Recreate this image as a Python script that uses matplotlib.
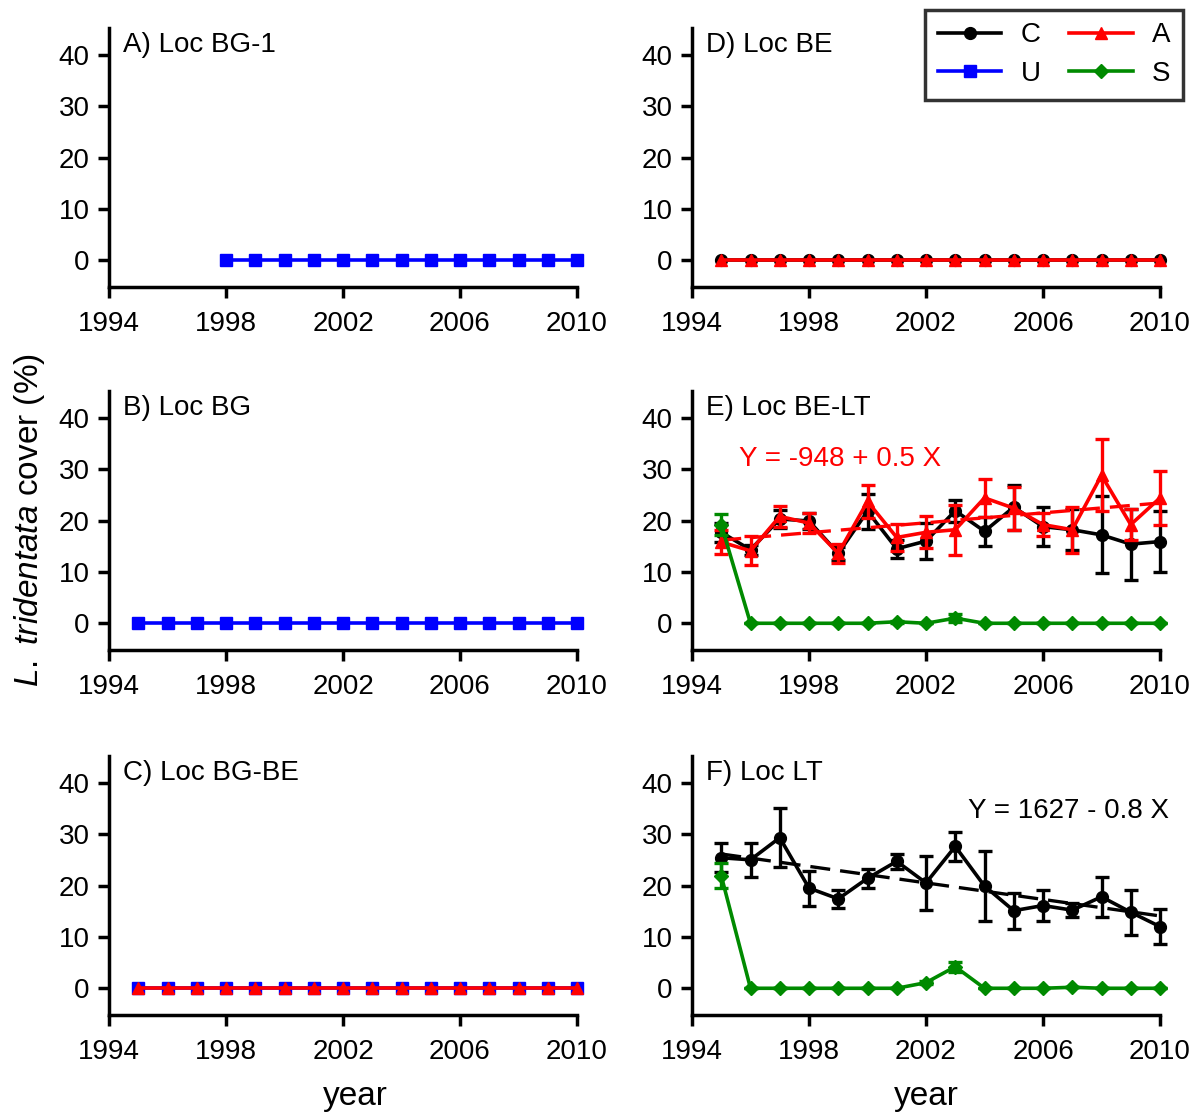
import numpy as np
import matplotlib
matplotlib.use("Agg")
import matplotlib.pyplot as plt
from matplotlib.lines import Line2D

plt.rcParams['font.family'] = ['Liberation Sans', 'DejaVu Sans']
plt.rcParams['mathtext.fontset'] = 'custom'
plt.rcParams['mathtext.it'] = 'Liberation Sans:italic'
plt.rcParams['mathtext.rm'] = 'Liberation Sans'

years = np.arange(1995, 2011)
years_a = np.arange(1998, 2011)

# Panel E (Loc BE-LT)
E_C = [17.7, 14.3, 20.3, 19.9, 13.6, 21.8, 14.5, 16.0, 21.9, 17.9, 22.6, 18.8, 18.2, 17.2, 15.4, 15.9]
E_C_err = [1.9, 1.0, 1.8, 1.6, 1.3, 3.4, 1.7, 3.5, 2.1, 2.8, 4.4, 3.8, 4.0, 7.5, 6.9, 6.0]
E_A = [15.8, 14.1, 20.8, 19.5, 13.6, 23.7, 16.7, 17.7, 18.2, 24.4, 22.4, 19.2, 18.2, 28.8, 19.2, 24.4]
E_A_err = [2.3, 2.8, 2.1, 1.9, 1.9, 3.2, 2.6, 3.1, 4.9, 3.7, 4.2, 2.2, 4.5, 7.0, 3.0, 5.3]
E_S = [19.2, 0, 0, 0, 0, 0, 0.3, 0, 1.0, 0, 0, 0, 0, 0, 0, 0]
E_S_err = [2.0, 0, 0, 0, 0, 0, 0.2, 0, 0.8, 0, 0, 0, 0, 0, 0, 0]

# Panel F (Loc LT)
F_C = [25.4, 25.0, 29.3, 19.5, 17.4, 21.4, 24.7, 20.5, 27.6, 19.9, 15.1, 16.1, 15.2, 17.8, 14.8, 12.0]
F_C_err = [2.8, 3.3, 5.7, 3.4, 1.7, 1.8, 1.5, 5.3, 2.9, 6.8, 3.5, 3.0, 1.4, 3.9, 4.4, 3.4]
F_S = [21.9, 0, 0, 0, 0, 0, 0, 1.1, 4.2, 0, 0, 0, 0.2, 0, 0, 0]
F_S_err = [2.4, 0, 0, 0, 0, 0, 0, 0.3, 1.0, 0, 0, 0, 0, 0, 0, 0]

zeros = [0.0] * len(years)
zeros_a = [0.0] * len(years_a)

panel_titles = ["A) Loc BG-1", "B) Loc BG", "C) Loc BG-BE", "D) Loc BE", "E) Loc BE-LT", "F) Loc LT"]
eq_E = "Y = -948 + 0.5 X"
eq_F = "Y = 1627 - 0.8 X"

styles = {
    'C': dict(color='black', marker='o', ms=8.5),
    'U': dict(color='blue', marker='s', ms=8.5),
    'A': dict(color='red', marker='^', ms=9),
    'S': dict(color='#008a00', marker='D', ms=7),
}

W, H = 1193, 1114
fig = plt.figure(figsize=(W / 100, H / 100), dpi=100)

lefts = [109 / W, 692 / W]
width = 468 / W
bottoms = [1 - 287 / H, 1 - 650 / H, 1 - 1015 / H]
height = 259 / H

axes = {}
labels = ['A', 'B', 'C', 'D', 'E', 'F']
for i, lab in enumerate(labels):
    col = i // 3
    row = i % 3
    ax = fig.add_axes([lefts[col], bottoms[row], width, height])
    axes[lab] = ax
    ax.set_xlim(1994, 2010)
    ax.set_ylim(-5.2, 45.2)
    ax.set_xticks([1994, 1998, 2002, 2006, 2010])
    ax.set_yticks([0, 10, 20, 30, 40])
    for s in ['top', 'right']:
        ax.spines[s].set_visible(False)
    for s in ['left', 'bottom']:
        ax.spines[s].set_linewidth(2.5)
    ax.tick_params(direction='out', length=8, width=2.5, labelsize=20, pad=6)
    ax.tick_params(axis='x', pad=9)
    ax.text(0.03, 0.985, panel_titles[i], transform=ax.transAxes, ha='left', va='top', fontsize=20)


def plot_series(ax, x, y, key, err=None, z=2):
    st = styles[key]
    if err is None:
        ax.plot(x, y, color=st['color'], marker=st['marker'], ms=st['ms'], lw=2.6, zorder=z, clip_on=False)
    else:
        ax.errorbar(x, y, yerr=err, color=st['color'], marker=st['marker'], ms=st['ms'], lw=2.6,
                    elinewidth=2.4, capsize=5, capthick=2.4, zorder=z, clip_on=False)


def plot_fit(ax, x, y, color, z):
    coef = np.polyfit(x, y, 1)
    ax.plot(x, np.polyval(coef, x), color=color, ls=(0, (6, 3)), lw=2.4, zorder=z)


# A
plot_series(axes['A'], years_a, zeros_a, 'U')
# B
plot_series(axes['B'], years, zeros, 'U')
# C
plot_series(axes['C'], years, zeros, 'U', z=2)
plot_series(axes['C'], years, zeros, 'A', z=3)
# D
plot_series(axes['D'], years, zeros, 'C', z=2)
plot_series(axes['D'], years, zeros, 'A', z=3)
# E
plot_series(axes['E'], years, E_C, 'C', E_C_err, z=2)
plot_series(axes['E'], years, E_A, 'A', E_A_err, z=3)
plot_fit(axes['E'], years, E_A, 'red', 3.5)
plot_series(axes['E'], years, E_S, 'S', E_S_err, z=4)
axes['E'].text(1995.6, 32, eq_E, color='red', fontsize=20, ha='left', va='center')
# F
plot_series(axes['F'], years, F_C, 'C', F_C_err, z=2)
plot_fit(axes['F'], years, F_C, 'black', 2.5)
plot_series(axes['F'], years, F_S, 'S', F_S_err, z=4)
axes['F'].text(2010.3, 34.4, eq_F, color='black', fontsize=20, ha='right', va='center')

# Legend
handles = [Line2D([], [], lw=2.6, **styles[k]) for k in ['C', 'U', 'A', 'S']]
leg = fig.legend(handles, ['C', 'U', 'A', 'S'], ncol=2, loc='upper right',
                 bbox_to_anchor=(1183 / W, 1 - 10 / H), fontsize=20, frameon=True,
                 fancybox=False, edgecolor='black', handlelength=2.3, columnspacing=1.0,
                 borderpad=0.45, labelspacing=0.45, handletextpad=0.7, borderaxespad=0)
leg.get_frame().set_linewidth(2.5)

fig.text(30 / W, 1 - 520 / H, r'$\mathit{L.\ tridentata}$ cover (%)', rotation=90,
         ha='center', va='center', fontsize=24)
fig.text((109 + 246) / W, 1 - 1097 / H, 'year', ha='center', va='center', fontsize=24)
fig.text((692 + 234) / W, 1 - 1097 / H, 'year', ha='center', va='center', fontsize=24)

fig.savefig('out.png', dpi=100)
